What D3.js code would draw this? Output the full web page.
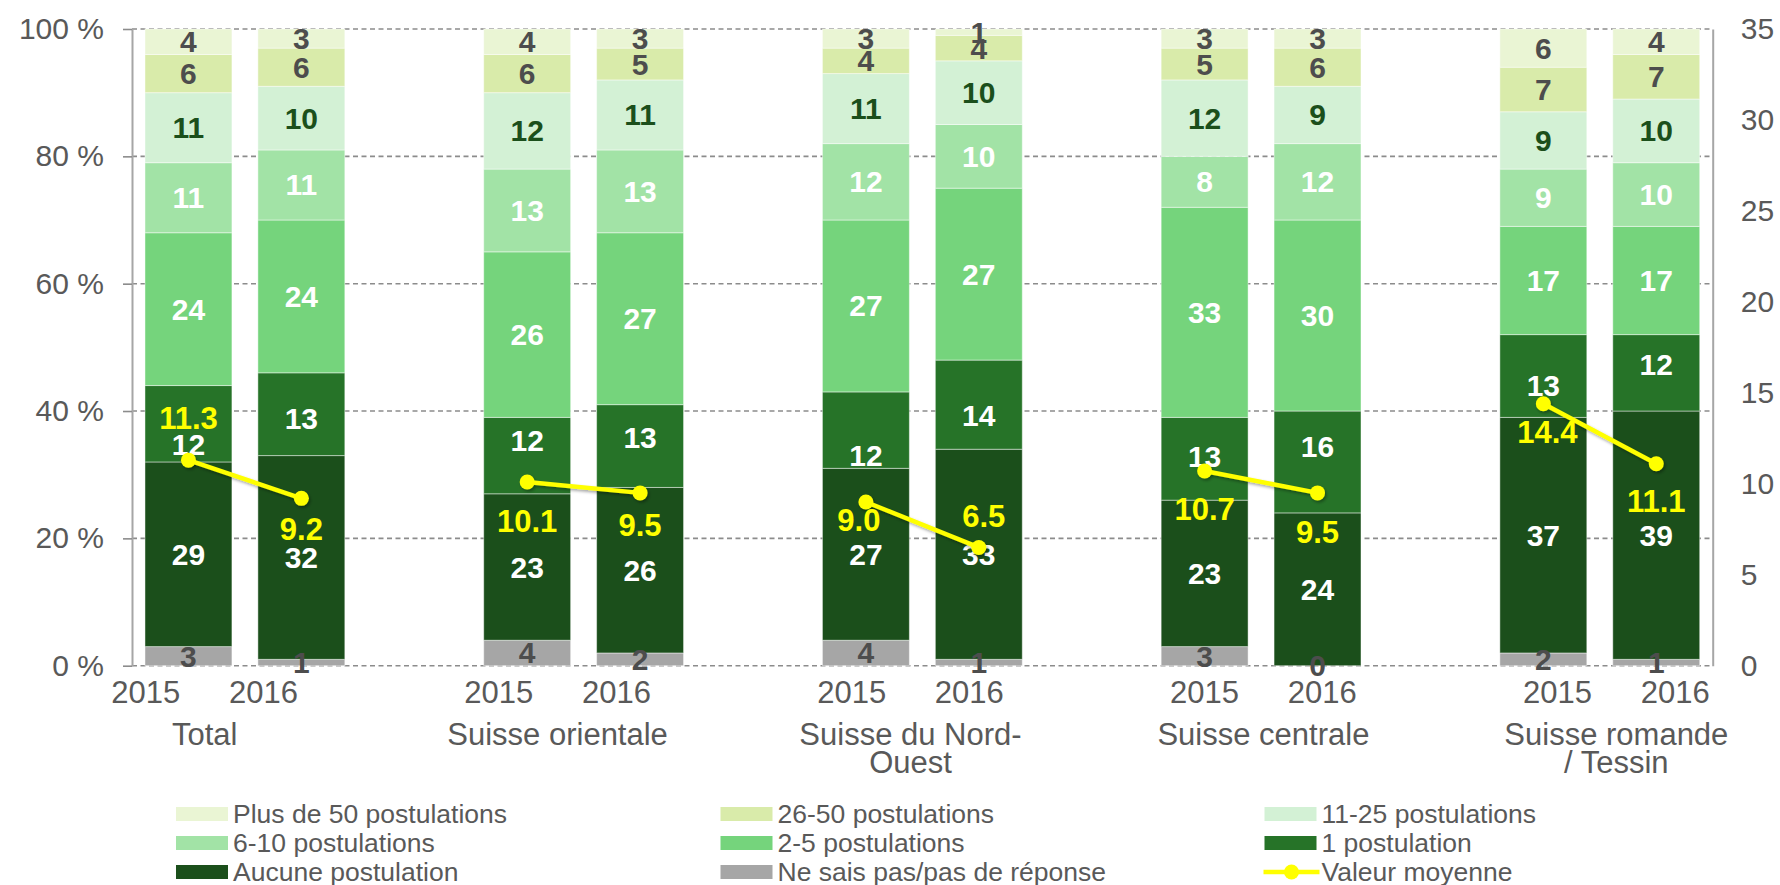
<!DOCTYPE html>
<html>
<head>
<meta charset="utf-8">
<script src="https://cdn.jsdelivr.net/npm/d3@7"></script>
<style>
  html, body { margin: 0; padding: 0; background: #ffffff; }
  svg { display: block; font-family: "Liberation Sans", Arial, Helvetica, sans-serif; }
</style>
</head>
<body>
<svg id="chart" width="1780" height="885"></svg>
<script>
// ---- Data -------------------------------------------------------------
const groups = ["Total", "Suisse orientale", "Suisse du Nord-Ouest", "Suisse centrale", "Suisse romande / Tessin"];
const groupLabelLines = [["Total"], ["Suisse orientale"], ["Suisse du Nord-", "Ouest"], ["Suisse centrale"], ["Suisse romande", "/ Tessin"]];
const years = ["2015", "2016"];

// Shares in % per bar (order: Total 2015, Total 2016, Orientale 2015, ...)
const nePasSavoir     = [3, 1, 4, 2, 4, 1, 3, 0, 2, 1];
const aucune          = [29, 32, 23, 26, 27, 33, 23, 24, 37, 39];
const une             = [12, 13, 12, 13, 12, 14, 13, 16, 13, 12];
const deuxACinq       = [24, 24, 26, 27, 27, 27, 33, 30, 17, 17];
const sixADix         = [11, 11, 13, 13, 12, 10, 8, 12, 9, 10];
const onzeAVingtCinq  = [11, 10, 12, 11, 11, 10, 12, 9, 9, 10];
const vingtSixACinq   = [6, 6, 6, 5, 4, 4, 5, 6, 7, 7];
const plusDeCinquante = [4, 3, 4, 3, 3, 1, 3, 3, 6, 4];

// Average number of applications (right axis)
const valeurMoyenne = [11.3, 9.2, 10.1, 9.5, 9.0, 6.5, 10.7, 9.5, 14.4, 11.1];

const leftTicks = [0, 20, 40, 60, 80, 100];
const rightTicks = [0, 5, 10, 15, 20, 25, 30, 35];

// Series, bottom of the stack first
const series = [
  { key: "nsp",  name: "Ne sais pas/pas de réponse", values: nePasSavoir,     fill: "#a6a6a6", text: "#4d4d4d" },
  { key: "s0",   name: "Aucune postulation",         values: aucune,          fill: "#1b4f1b", text: "#ffffff" },
  { key: "s1",   name: "1 postulation",              values: une,             fill: "#267328", text: "#ffffff" },
  { key: "s2",   name: "2-5 postulations",           values: deuxACinq,       fill: "#75d47c", text: "#ffffff" },
  { key: "s6",   name: "6-10 postulations",          values: sixADix,         fill: "#a2e3a6", text: "#ffffff" },
  { key: "s11",  name: "11-25 postulations",         values: onzeAVingtCinq,  fill: "#d3f1d5", text: "#1b4f1b" },
  { key: "s26",  name: "26-50 postulations",         values: vingtSixACinq,   fill: "#d9ebaa", text: "#4d4d4d" },
  { key: "s50",  name: "Plus de 50 postulations",    values: plusDeCinquante, fill: "#eaf5d4", text: "#4d4d4d" }
];

// ---- Layout -----------------------------------------------------------
const svg = d3.select("#chart");
const plotLeft = 132, plotRight = 1712.7, plotTop = 29, plotBottom = 665.7;
const axisGrey = "#a6a6a6", textGrey = "#595959";

// One slot per bar, with an empty slot between regions
const slots = [];
groups.forEach((g, gi) => {
  years.forEach((yr, yi) => slots.push({ key: g + "|" + yr, group: gi, year: yr, idx: gi * 2 + yi }));
  if (gi < groups.length - 1) slots.push({ key: "gap" + gi, gap: true });
});
const bars = slots.filter(s => !s.gap);

const x = d3.scaleBand().domain(slots.map(s => s.key))
  .range([plotLeft, plotRight]).paddingInner(0.23).paddingOuter(0.115);
// category text sits on a slightly wider band than the bars
const xText = d3.scaleBand().domain(slots.map(s => s.key))
  .range([87, 1734]).paddingInner(0.23).paddingOuter(0.115);

const y = d3.scaleLinear().domain([0, 100]).range([plotBottom, plotTop]);
const y2 = d3.scaleLinear().domain([0, 35]).range([plotBottom, plotTop]);

// ---- Gridlines --------------------------------------------------------
svg.append("g").selectAll("line").data(leftTicks).join("line")
  .attr("x1", plotLeft).attr("x2", plotRight)
  .attr("y1", d => y(d)).attr("y2", d => y(d))
  .attr("stroke", "#8c8c8c").attr("stroke-width", 1.6)
  .attr("stroke-dasharray", "5,3.5");

// ---- Stacked bars -----------------------------------------------------
const table = bars.map(b => {
  const row = { key: b.key };
  series.forEach(s => row[s.key] = s.values[b.idx]);
  return row;
});
const stacked = d3.stack().keys(series.map(s => s.key))(table);

const barLayer = svg.append("g");
stacked.forEach((layer, li) => {
  const s = series[li];
  barLayer.append("g").selectAll("rect").data(layer).join("rect")
    .attr("x", d => x(d.data.key))
    .attr("width", x.bandwidth())
    .attr("y", d => y(d[1]))
    .attr("height", d => y(d[0]) - y(d[1]))
    .attr("fill", s.fill)
    .attr("stroke", "rgba(255,255,255,0.45)")
    .attr("stroke-width", 1);
});

// ---- Axes -------------------------------------------------------------
const leftAxis = svg.append("g").attr("transform", `translate(${plotLeft},0)`)
  .call(d3.axisLeft(y).tickValues(leftTicks).tickFormat(d => d + "\u00a0%")
    .tickSizeInner(9).tickSizeOuter(0).tickPadding(19));
leftAxis.select(".domain").attr("stroke", axisGrey).attr("stroke-width", 2);
leftAxis.selectAll(".tick line").attr("stroke", "#8c8c8c").attr("stroke-width", 1.6);
leftAxis.selectAll("text").attr("fill", textGrey).style("font-size", "30px")
  .attr("font-family", null);

const rightAxis = svg.append("g").attr("transform", `translate(${plotRight},0)`)
  .call(d3.axisRight(y2).tickValues(rightTicks).tickSize(0).tickPadding(28));
rightAxis.select(".domain").attr("stroke", axisGrey).attr("stroke-width", 2);
rightAxis.selectAll("text").attr("fill", textGrey).style("font-size", "30px")
  .attr("font-family", null);

// ---- Bar value labels -------------------------------------------------
// nudges (px) for the "1 postulation" labels, keeping them clear of the averages
const unLabelNudge = [21, 4, -15, -9, 25, 11, -2, -15, 9, -8];
const labelLayer = svg.append("g");
stacked.forEach((layer, li) => {
  const s = series[li];
  labelLayer.append("g").selectAll("text").data(layer).join("text")
    .attr("x", d => x(d.data.key) + x.bandwidth() / 2)
    .attr("y", (d, i) => (y(d[0]) + y(d[1])) / 2 + (s.key === "s1" ? unLabelNudge[i] : 0))
    .attr("text-anchor", "middle")
    .attr("dominant-baseline", "central")
    .attr("fill", s.text)
    .style("font-size", "30px").style("font-weight", "bold")
    .text(d => d.data[s.key]);
});

// ---- Average value line -----------------------------------------------
const defs = svg.append("defs");
defs.append("filter").attr("id", "soft").attr("x", "-50%").attr("y", "-50%")
  .attr("width", "200%").attr("height", "200%")
  .append("feDropShadow").attr("dx", 1.5).attr("dy", 2).attr("stdDeviation", 1.5)
  .attr("flood-color", "#000").attr("flood-opacity", 0.35);

const meanLayer = svg.append("g").attr("filter", "url(#soft)");
const line = d3.line().x(b => x(b.key) + x.bandwidth() / 2).y(b => y2(valeurMoyenne[b.idx]));
groups.forEach((g, gi) => {
  const pair = bars.filter(b => b.group === gi);
  meanLayer.append("path").attr("d", line(pair))
    .attr("fill", "none").attr("stroke", "#ffff00").attr("stroke-width", 4.5);
});
meanLayer.selectAll("circle").data(bars).join("circle")
  .attr("cx", b => x(b.key) + x.bandwidth() / 2)
  .attr("cy", b => y2(valeurMoyenne[b.idx]))
  .attr("r", 7.5).attr("fill", "#ffff00");

// label offsets of the averages (px, relative to the point)
const meanLabelDx = [0, 0, 0, 0, -7, 5, 0, 0, 4, 0];
const meanLabelDy = [-42, 31, 40, 33, 19, -31, 38, 40, 29, 38];
svg.append("g").selectAll("text").data(bars).join("text")
  .attr("x", b => x(b.key) + x.bandwidth() / 2 + meanLabelDx[b.idx])
  .attr("y", b => y2(valeurMoyenne[b.idx]) + meanLabelDy[b.idx])
  .attr("text-anchor", "middle").attr("dominant-baseline", "central")
  .attr("fill", "#ffff00")
  .style("font-size", "31px").style("font-weight", "bold")
  .text(b => d3.format(".1f")(valeurMoyenne[b.idx]));

// ---- Category labels --------------------------------------------------
const catLayer = svg.append("g").attr("fill", textGrey).style("font-size", "31px");
catLayer.selectAll("text.year").data(bars).join("text").attr("class", "year")
  .attr("x", b => xText(b.key) + xText.bandwidth() / 2)
  .attr("y", 703)
  .attr("text-anchor", "middle")
  .text(b => b.year);

groups.forEach((g, gi) => {
  const pair = bars.filter(b => b.group === gi);
  const cx = d3.mean(pair, b => xText(b.key) + xText.bandwidth() / 2);
  const t = catLayer.append("text").attr("x", cx).attr("y", 745).attr("text-anchor", "middle");
  groupLabelLines[gi].forEach((ln, li) => {
    t.append("tspan").attr("x", cx).attr("dy", li === 0 ? 0 : 28).text(ln);
  });
});

// ---- Legend -----------------------------------------------------------
const legendItems = [
  series[7], series[6], series[5],
  series[4], series[3], series[2],
  series[1], series[0],
  { name: "Valeur moyenne", line: true }
];
const legendCols = [176, 720.5, 1264.5];
const legendRows = [814, 843, 872];
const legend = svg.append("g");
legendItems.forEach((it, i) => {
  const lx = legendCols[i % 3], ly = legendRows[Math.floor(i / 3)];
  const g = legend.append("g").attr("transform", `translate(${lx},${ly})`);
  if (it.line) {
    g.append("line").attr("x1", -1).attr("x2", 55).attr("y1", 0).attr("y2", 0)
      .attr("stroke", "#ffff00").attr("stroke-width", 4.5);
    g.append("circle").attr("cx", 27).attr("cy", 0).attr("r", 7.5).attr("fill", "#ffff00");
  } else {
    g.append("rect").attr("x", 0).attr("y", -7).attr("width", 52).attr("height", 14).attr("fill", it.fill);
  }
  g.append("text").attr("x", 57).attr("y", 0).attr("dominant-baseline", "central")
    .attr("fill", textGrey).style("font-size", "26.5px").text(it.name);
});
</script>
</body>
</html>
